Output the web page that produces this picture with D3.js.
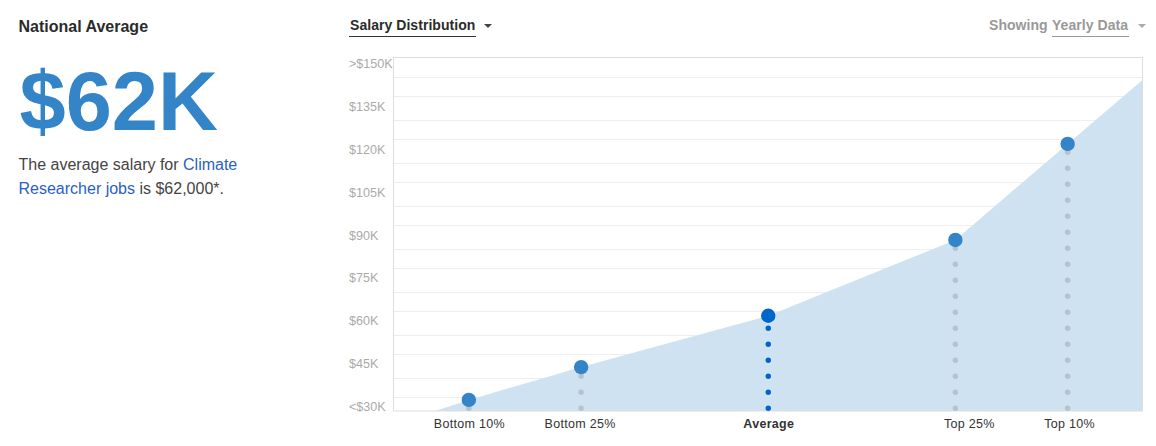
<!DOCTYPE html>
<html>
<head>
<meta charset="utf-8">
<script src="https://cdn.jsdelivr.net/npm/d3@7/dist/d3.min.js"></script>
<style>
  body { margin: 0; background: #fff; }
  svg { display: block; }
  text { font-family: "Liberation Sans", Arial, sans-serif; }
</style>
</head>
<body>
<svg id="chart" width="1156" height="446"></svg>
<script>
var categories = ["Bottom 10%", "Bottom 25%", "Average", "Top 25%", "Top 10%"];
var percentiles = [10, 25, 50, 75, 90];
var salaries = [32.5, 44, 62, 88.6, 122.3];
// where the labels sit, the original is not quite centred under Top 25%
var labelPercentiles = [10, 24.8, 50, 76.8, 90.2];

// the filled shape runs on past the first and last point
var areaPercentiles = [5.5, 10, 25, 50, 75, 90, 100];
var areaSalaries = [28.6, 32.5, 44, 62, 88.6, 122.3, 144.7];

var yTicks = [30, 45, 60, 75, 90, 105, 120, 135, 150];
var yTickLabels = ["<$30K", "$45K", "$60K", "$75K", "$90K", "$105K", "$120K", "$135K", ">$150K"];
var gridValues = [33.5, 40.2, 48.6, 55.3, 63.7, 70.4, 78.8, 85.5, 93.9, 100.5, 108.9, 115.6, 124, 130.7, 139.1, 145.8];

var svg = d3.select("#chart");

var x = d3.scaleLinear().domain([0, 100]).range([394, 1142.5]);
var y = d3.scaleLinear().domain([28.6, 152.6]).range([411, 57.5]);

// grid
svg.selectAll("line.grid")
  .data(gridValues)
  .enter().append("line")
    .attr("class", "grid")
    .attr("x1", x(0))
    .attr("x2", x(100))
    .attr("y1", function(d) { return Math.round(y(d)) + 0.5; })
    .attr("y2", function(d) { return Math.round(y(d)) + 0.5; })
    .attr("stroke", "#eeeeee");

// filled area
var area = d3.area()
    .x(function(d, i) { return x(areaPercentiles[i]); })
    .y0(y(28.6))
    .y1(function(d) { return y(d); });

svg.append("path")
    .datum(areaSalaries)
    .attr("d", area)
    .attr("fill", "#cfe2f2");

// frame
svg.append("rect")
    .attr("x", x(0) - 0.5)
    .attr("y", y(152.6))
    .attr("width", x(100) - x(0) + 0.5)
    .attr("height", y(28.6) - y(152.6))
    .attr("fill", "none")
    .attr("stroke", "#dddddd");

// dotted drop lines, dashes measured up from the bottom
svg.selectAll("line.drop")
  .data(salaries)
  .enter().append("line")
    .attr("class", "drop")
    .attr("x1", function(d, i) { return x(percentiles[i]); })
    .attr("x2", function(d, i) { return x(percentiles[i]); })
    .attr("y1", y(28.6) - 2.7)
    .attr("y2", function(d) { return y(d); })
    .attr("stroke", function(d, i) { return categories[i] == "Average" ? "#0066cc" : "#b5c3cf"; })
    .attr("stroke-width", 5.5)
    .attr("stroke-linecap", "round")
    .attr("stroke-dasharray", "0 16");

// points
svg.selectAll("circle.point")
  .data(salaries)
  .enter().append("circle")
    .attr("class", "point")
    .attr("cx", function(d, i) { return x(percentiles[i]); })
    .attr("cy", function(d) { return y(d); })
    .attr("r", 7.2)
    .attr("fill", function(d, i) { return categories[i] == "Average" ? "#0066cc" : "#3385c8"; });

// y axis, labels left aligned
var yAxis = d3.axisLeft(y)
    .tickValues(yTicks)
    .tickSize(0)
    .tickFormat(function(d, i) { return yTickLabels[i]; });

var yG = svg.append("g").attr("transform", "translate(349,-1)").call(yAxis);
yG.select(".domain").remove();
yG.selectAll("text")
    .attr("x", 0)
    .attr("text-anchor", "start")
    .attr("fill", "#aaaaaa")
    .style("font-size", "12.6px")
    .style("font-family", "'Liberation Sans', Arial, sans-serif");

// x axis
var xAxis = d3.axisBottom(x)
    .tickValues(labelPercentiles)
    .tickSize(0)
    .tickFormat(function(d, i) { return categories[i]; });

var xG = svg.append("g").attr("transform", "translate(0,411)").call(xAxis);
xG.select(".domain").remove();
xG.selectAll("text")
    .attr("fill", "#333333")
    .attr("y", 8)
    .style("font-size", "12.5px")
    .style("letter-spacing", "0.3px")
    .style("font-weight", function(d, i) { return categories[i] == "Average" ? "bold" : "normal"; })
    .style("font-family", "'Liberation Sans', Arial, sans-serif");

// left panel
svg.append("text").attr("x", 18.5).attr("y", 32)
    .attr("fill", "#2b2b2b")
    .style("font-size", "16px").style("font-weight", "bold")
    .text("National Average");

svg.append("text").attr("x", 19.5).attr("y", 130)
    .attr("fill", "#3385c8")
    .style("font-size", "83px").style("font-weight", "bold")
    .text("$62K");

var line1 = svg.append("text").attr("x", 18.5).attr("y", 170)
    .attr("fill", "#444444").style("font-size", "16px");
line1.append("tspan").text("The average salary for ");
line1.append("tspan").attr("fill", "#2a5fc4").text("Climate");

var line2 = svg.append("text").attr("x", 18.5).attr("y", 194)
    .attr("fill", "#444444").style("font-size", "16px");
line2.append("tspan").attr("fill", "#2a5fc4").text("Researcher jobs");
line2.append("tspan").text(" is $62,000*.");

// controls on top
svg.append("text").attr("x", 350).attr("y", 30)
    .attr("fill", "#2b2b2b")
    .style("font-size", "14px").style("font-weight", "bold").style("letter-spacing", "0.05px")
    .text("Salary Distribution");
svg.append("line").attr("x1", 349).attr("x2", 476).attr("y1", 36.5).attr("y2", 36.5).attr("stroke", "#333333");
svg.append("path").attr("d", d3.line()([[484, 24], [492, 24], [488, 28]])).attr("fill", "#444444");

svg.append("text").attr("x", 989).attr("y", 30)
    .attr("fill", "#999999")
    .style("font-size", "14px").style("font-weight", "bold").style("letter-spacing", "0.05px")
    .text("Showing");
svg.append("text").attr("x", 1052).attr("y", 30)
    .attr("fill", "#999999")
    .style("font-size", "14px").style("font-weight", "bold").style("letter-spacing", "0.05px")
    .text("Yearly Data");
svg.append("line").attr("x1", 1052).attr("x2", 1129).attr("y1", 36.5).attr("y2", 36.5).attr("stroke", "#999999");
svg.append("path").attr("d", d3.line()([[1138, 24], [1146, 24], [1142, 28]])).attr("fill", "#aaaaaa");
</script>
</body>
</html>
